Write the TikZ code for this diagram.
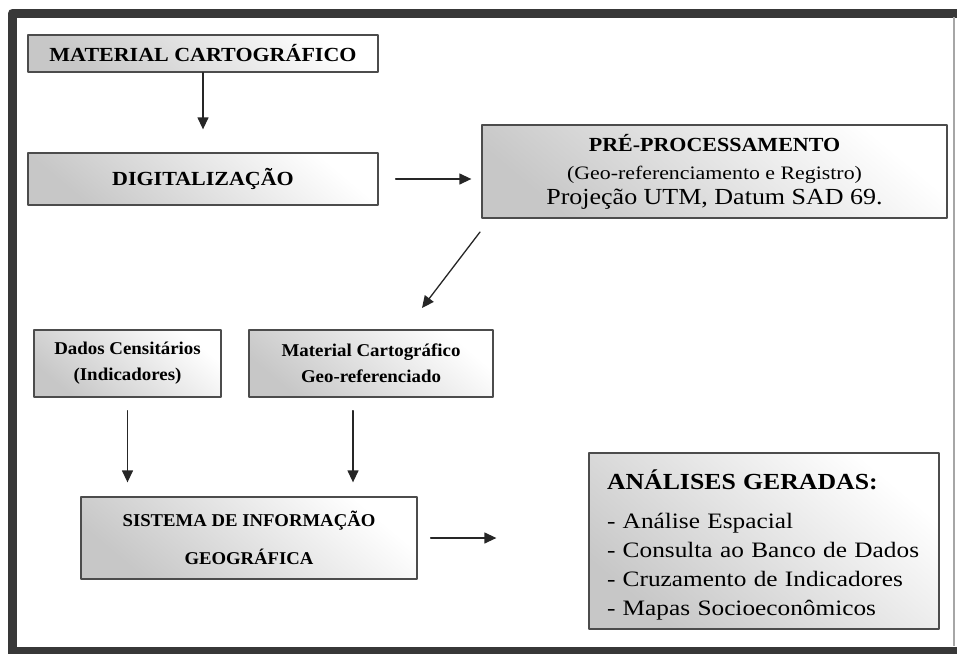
\documentclass[tikz,border=0pt]{standalone}
\usepackage{fontspec}
\setmainfont{Liberation Serif}
\usepackage{tikz}
\usetikzlibrary{positioning}
\usetikzlibrary{arrows.meta}

% font size, line distance, horizontal stretch
\newcommand{\bxfont}[3]{\fontsize{#1}{#2}\selectfont\addfontfeature{FakeStretch=#3}}

\tikzset{
  box/.style={draw=black!70, line width=1.3pt, top color=white, bottom color=black!22,
    shading angle=-40, inner sep=0pt, align=center},
  arr/.style={-{Triangle[length=12pt,width=11pt]}, line width=1.3pt, black!85},
}

\begin{document}
\begin{tikzpicture}[x=1pt, y=-1pt, line cap=round, line join=round]
    \useasboundingbox (0,0) rectangle (957,653);

    % outer frame
    \draw[line width=9pt, black!78, line cap=butt] (12.5,653) -- (12.5,13) -- (957,13);
    \draw[line width=7pt, black!78, line cap=butt] (8,650) -- (957,650);
    \draw[line width=2pt, black!35, line cap=butt] (954,17) -- (954,646);

    % upper row
    \node[box, minimum width=350pt, minimum height=37pt, font=\bxfont{20}{24}{1.1}\bfseries]
        (mc) at (203,53.5) {MATERIAL CARTOGRÁFICO};
    \node[box, minimum width=350pt, minimum height=52pt, font=\bxfont{20}{24}{1.1}\bfseries]
        (dig) at (203,179) {DIGITALIZAÇÃO};
    \node[box, minimum width=465pt, minimum height=93pt, font=\bxfont{20}{28}{1.1}]
        (pre) at (714.5,171.5)
        {{\bfseries PRÉ-PROCESSAMENTO}\\
         {\bxfont{19}{28}{1.15}(Geo-referenciamento e Registro)}\\[-3pt]
         {\bxfont{23}{28}{1.13}Projeção UTM, Datum SAD 69.}};

    % middle row
    \node[box, minimum width=187pt, minimum height=67pt, font=\bxfont{18}{26}{1.05}\bfseries]
        (dc) at (127.5,363.5) {Dados Censitários\\(Indicadores)};
    \node[box, minimum width=244pt, minimum height=67pt, font=\bxfont{18}{26}{1.05}\bfseries]
        (mcg) at (371,363.5) {Material Cartográfico\\Geo-referenciado};

    % lower row
    \node[box, minimum width=336pt, minimum height=82pt, font=\bxfont{18}{38}{1.04}\bfseries]
        (sig) at (249,538) {SISTEMA DE INFORMAÇÃO\\GEOGRÁFICA};
    \node[box, minimum width=350pt, minimum height=176pt, align=left, text width=314pt,
        font=\bxfont{22}{29}{1.15}]
        (an) at (764,541)
        {{\bxfont{23}{29}{1.12}\bfseries\rule{0pt}{27pt}ANÁLISES GERADAS:}\\[10pt]
         - Análise Espacial\\
         - Consulta ao Banco de Dados\\
         - Cruzamento de Indicadores\\
         - Mapas Socioeconômicos};

    % connectors
    \coordinate (d1) at (480,232);
    \coordinate (d2) at (422,308);
    \draw[arr, shorten >=23pt] (mc) -- (dig);
    \draw[arr, shorten <=17pt, shorten >=10pt] (dig) -- (dig -| pre.west);
    \draw[arr] (d1) -- (d2);
    \draw[arr, shorten <=13pt, shorten >=14pt] (dc.south) -- (dc.south |- sig.north);
    \draw[arr, shorten <=13pt, shorten >=14pt] (mcg.south -| 353,0) -- (353,0 |- sig.north);
    \draw[arr, shorten <=13pt, shorten >=92pt] (sig) -- (sig -| an.west);
\end{tikzpicture}
\end{document}
